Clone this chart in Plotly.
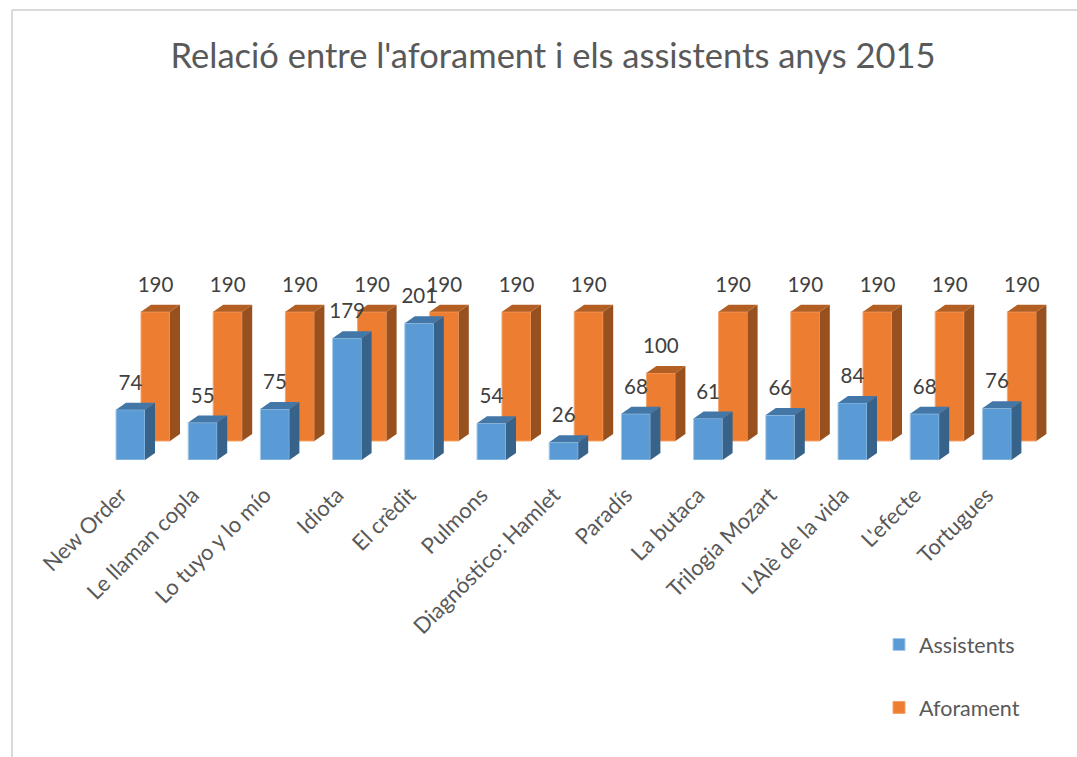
import plotly.graph_objects as go

categories = ["New Order", "Le llaman copla", "Lo tuyo y lo mío", "Idiota", "El crèdit", "Pulmons",
              "Diagnóstico: Hamlet", "Paradís", "La butaca", "Trilogia Mozart", "L'Alè de la vida",
              "L'efecte", "Tortugues"]
assistents = [74, 55, 75, 179, 201, 54, 26, 68, 61, 66, 84, 68, 76]
aforament = [190, 190, 190, 190, 190, 190, 190, 100, 190, 190, 190, 190, 190]

W, H = 1077, 757
PX_X = 72.2
PX_Y = 0.68
BASE_PX = 460
X0_PX = 130.5
FONT = "Lato"

bar_w = 29 / PX_X
dx = 10 / PX_X
dy = 7 / PX_Y
shift_x = 25 / PX_X
shift_y = 19 / PX_Y
label_gap = 25 / PX_Y

idx = list(range(len(categories)))


def faces(vals, xs, base):
    side_x, side_y, top_x, top_y = [], [], [], []
    for x, v in zip(xs, vals):
        l, r = x - bar_w / 2, x + bar_w / 2
        t = base + v
        side_x += [r, r + dx, r + dx, r, r, None]
        side_y += [base, base + dy, t + dy, t, base, None]
        top_x += [l, l + dx, r + dx, r, l, None]
        top_y += [t, t + dy, t + dy, t, t, None]
    return side_x, side_y, top_x, top_y


def poly(x, y, color):
    return go.Scatter(x=x, y=y, mode="lines", fill="toself", fillcolor=color,
                      line=dict(width=0, color=color), showlegend=False, hoverinfo="skip")


fig = go.Figure()
x_or = [i + shift_x for i in idx]
fig.add_trace(go.Bar(x=x_or, y=aforament, base=[shift_y] * len(idx), width=bar_w, name="Aforament",
                     marker=dict(color="#ED7D31", line=dict(color="#F4A36C", width=1)),
                     legendgroup="b", legendrank=2))
fig.add_trace(go.Bar(x=idx, y=assistents, base=[0] * len(idx), width=bar_w, name="Assistents",
                     marker=dict(color="#5B9BD5", line=dict(color="#A5CAE9", width=1)),
                     legendgroup="a", legendrank=1))
s = faces(aforament, x_or, shift_y)
fig.add_trace(poly(s[0], s[1], "#97501E"))
fig.add_trace(poly(s[2], s[3], "#B35F24"))
s = faces(assistents, idx, 0)
fig.add_trace(poly(s[0], s[1], "#37628A"))
fig.add_trace(poly(s[2], s[3], "#4277A8"))

fig.add_trace(go.Scatter(x=x_or, y=[v + shift_y + label_gap for v in aforament], mode="text",
                         text=[str(v) for v in aforament], textposition="middle center",
                         textfont=dict(family=FONT, size=20.5, color="#404040"),
                         showlegend=False, hoverinfo="skip"))
fig.add_trace(go.Scatter(x=idx, y=[v + label_gap for v in assistents], mode="text",
                         text=[str(v) for v in assistents], textposition="middle center",
                         textfont=dict(family=FONT, size=20.5, color="#404040"),
                         showlegend=False, hoverinfo="skip"))

fig.update_layout(
    width=W, height=H, autosize=False,
    margin=dict(l=0, r=0, t=0, b=0, pad=0),
    paper_bgcolor="white", plot_bgcolor="white",
    barmode="overlay",
    title=dict(text="Relació entre l'aforament i els assistents anys 2015", x=553 / W, y=1 - 56 / H,
               xanchor="center", yanchor="middle",
               font=dict(family=FONT, size=34.5, color="#595959")),
    xaxis=dict(range=[-X0_PX / PX_X, (W - X0_PX) / PX_X], domain=[0, 1], showgrid=False, zeroline=False,
               showline=False, ticks="", tickvals=idx, ticktext=categories, tickangle=-45,
               ticklabelstandoff=17, ticklabelshift=-10,
               tickfont=dict(family=FONT, size=22, color="#595959")),
    yaxis=dict(range=[0, BASE_PX / PX_Y], domain=[1 - BASE_PX / H, 1], visible=False),
    legend=dict(x=879 / W, y=1 - 624 / H, xanchor="left", yanchor="top", tracegroupgap=32,
                bgcolor="rgba(0,0,0,0)", font=dict(family=FONT, size=21.5, color="#595959")),
    shapes=[
        dict(type="line", xref="paper", yref="paper", x0=12 / W, x1=12 / W, y0=0, y1=1 - 10 / H,
             line=dict(color="#D9D9D9", width=2)),
        dict(type="line", xref="paper", yref="paper", x0=12 / W, x1=1, y0=1 - 10 / H, y1=1 - 10 / H,
             line=dict(color="#D9D9D9", width=2)),
    ],
)
fig.write_html("out.html", post_script="document.body.style.margin='0';",
               config=dict(displayModeBar=False))
